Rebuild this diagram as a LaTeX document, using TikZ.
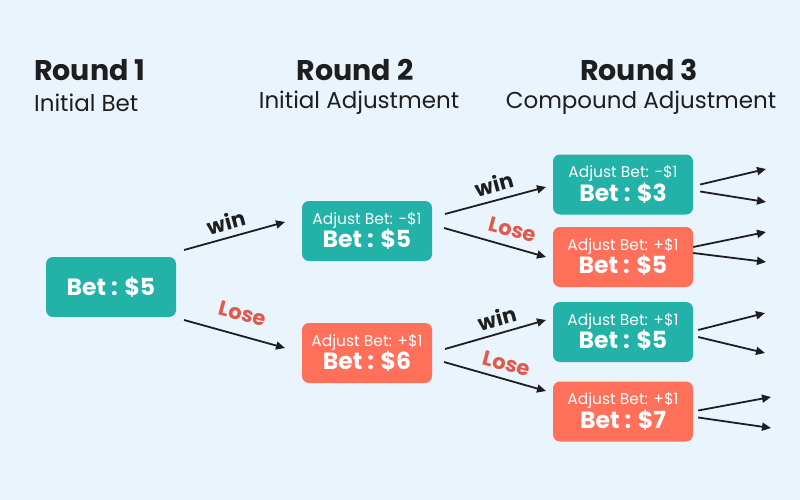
\documentclass[tikz,border=0pt]{standalone}
\usepackage{fontspec}
\setmainfont{Poppins}
\usetikzlibrary{arrows.meta}
\definecolor{bg}{HTML}{EAF4FD}
\definecolor{teal}{HTML}{22B2A8}
\definecolor{coral}{HTML}{FF705A}
\definecolor{losered}{HTML}{E0594A}
\definecolor{ink}{HTML}{1E1E1E}
\newcommand{\adjtxt}[1]{{\fontsize{15.5}{21}\selectfont Adjust Bet: #1}}
\newcommand{\bettxt}[1]{{\bfseries\fontsize{23.5}{21}\selectfont Bet : \$#1}}
\begin{document}
\begin{tikzpicture}[x=1pt,y=-1pt,
  box/.style={rounded corners=7pt, minimum width=#1, minimum height=60pt, inner sep=0pt, text=white, align=center, font=\fontsize{15.5}{21}\selectfont},
  tealbox/.style={box=130pt, fill=teal},
  coralbox/.style={box=130pt, fill=coral},
  tealbox3/.style={box=140pt, fill=teal},
  coralbox3/.style={box=140pt, fill=coral},
  conn/.style={draw=ink, line width=1.8pt, -{Triangle[length=9pt,width=8pt]}},
  winlbl/.style={font=\bfseries\fontsize{21}{21}\selectfont, text=ink, inner sep=0pt},
  loselbl/.style={font=\bfseries\fontsize{21}{21}\selectfont, text=losered, inner sep=0pt},
  head/.style={font=\bfseries\fontsize{28.5}{28.5}\selectfont, text=ink, inner sep=0pt},
  sub/.style={font=\fontsize{23}{23}\selectfont, text=ink, inner sep=0pt}
]
\fill[bg] (0,0) rectangle (800,500);
\useasboundingbox (0,0) rectangle (800,500);

% headers
\node[head, anchor=west] (h1) at (34,70) {Round 1};
\node[sub, anchor=west] (s1) at (34,103) {Initial Bet};
\node[head] (h2) at (355,70) {Round 2};
\node[sub] (s2) at (359,103) {Initial Adjustment};
\node[head] (h3) at (639,70) {Round 3};
\node[sub] (s3) at (641,103) {Compound Adjustment};

% boxes
\node[tealbox] (r1) at (111,287) {\bettxt{5}};
\node[tealbox] (r2a) at (367,231) {\adjtxt{-\$1}\\\bettxt{5}};
\node[coralbox] (r2b) at (367,353) {\adjtxt{+\$1}\\\bettxt{6}};
\node[tealbox3] (r3a) at (623,184.5) {\adjtxt{-\$1}\\\bettxt{3}};
\node[coralbox3] (r3b) at (623,257) {\adjtxt{+\$1}\\\bettxt{5}};
\node[tealbox3] (r3c) at (623,332) {\adjtxt{+\$1}\\\bettxt{5}};
\node[coralbox3] (r3d) at (623,411.5) {\adjtxt{+\$1}\\\bettxt{7}};

% coordinates for connector ends
\coordinate (a1s) at (184,250); \coordinate (a1e) at (285,222);
\coordinate (a2s) at (184,320); \coordinate (a2e) at (285,348);
\coordinate (b1s) at (445,214); \coordinate (b1e) at (546,187);
\coordinate (b2s) at (444,228); \coordinate (b2e) at (546,257);
\coordinate (c1s) at (445,349); \coordinate (c1e) at (546,320);
\coordinate (c2s) at (444,362); \coordinate (c2e) at (546,391);

\draw[conn] (a1s) -- (a1e);
\draw[conn] (a2s) -- (a2e);
\draw[conn] (b1s) -- (b1e);
\draw[conn] (b2s) -- (b2e);
\draw[conn] (c1s) -- (c1e);
\draw[conn] (c2s) -- (c2e);

\node[winlbl, rotate=15] (w1) at (226,222) {win};
\node[loselbl, rotate=-15] (l1) at (243,314) {Lose};
\node[winlbl, rotate=15] (w2) at (494,184) {win};
\node[loselbl, rotate=-15] (l2) at (513,230) {Lose};
\node[winlbl, rotate=15] (w3) at (497,318) {win};
\node[loselbl, rotate=-15] (l3) at (507,364) {Lose};

% outgoing stubs
\coordinate (o1a) at (766,169); \coordinate (o1b) at (766,202);
\coordinate (o2a) at (766,232); \coordinate (o2b) at (766,262);
\coordinate (o3a) at (765,313); \coordinate (o3b) at (765,353);
\coordinate (o4a) at (771,397); \coordinate (o4b) at (771,428);
\draw[conn] ([xshift=7pt,yshift=0pt]r3a.east) -- (o1a);
\draw[conn] ([xshift=7pt,yshift=-7pt]r3a.east) -- (o1b);
\draw[conn] ([yshift=10pt]r3b.east) -- (o2a);
\draw[conn] ([yshift=4pt]r3b.east) -- (o2b);
\draw[conn] ([xshift=5pt,yshift=2pt]r3c.east) -- (o3a);
\draw[conn] ([xshift=5pt,yshift=-5pt]r3c.east) -- (o3b);
\draw[conn] ([xshift=5pt,yshift=1pt]r3d.east) -- (o4a);
\draw[conn] ([xshift=5pt,yshift=-6pt]r3d.east) -- (o4b);
\end{tikzpicture}
\end{document}
